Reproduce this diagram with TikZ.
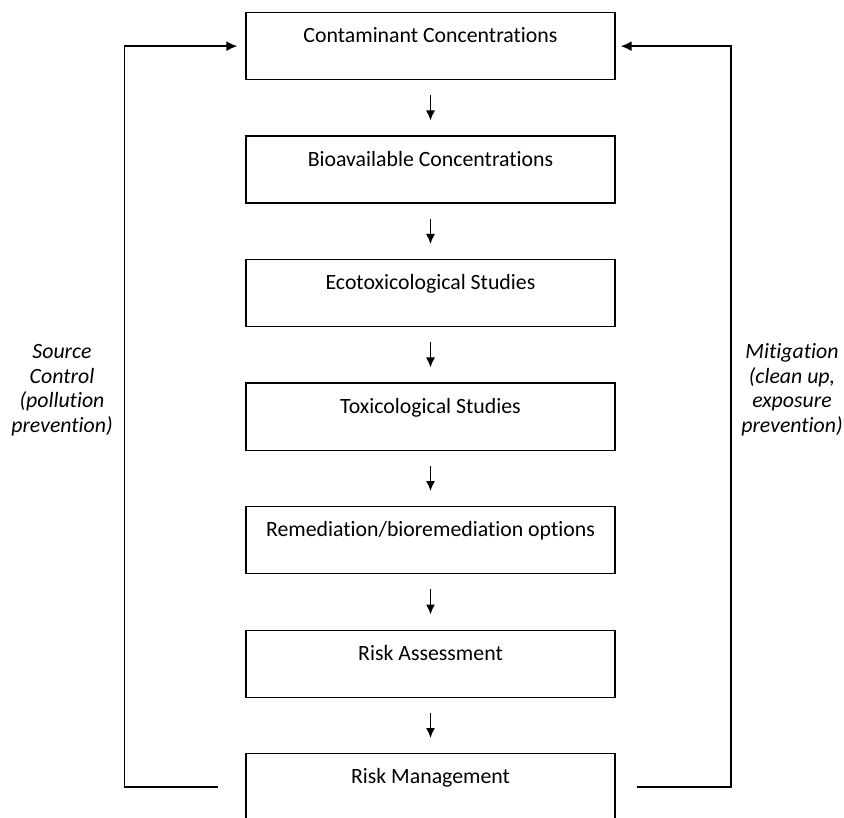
\documentclass[tikz,border=0pt]{standalone}
\usepackage{fontspec}
\setmainfont[Ligatures=NoCommon]{Carlito}
\usetikzlibrary{positioning,arrows.meta}

\tikzset{
  stage/.style={draw,line width=1.3pt,minimum width=369pt,inner xsep=0pt,inner ysep=0pt,
    text height=30pt,text depth=37pt,font=\fontsize{21.8}{26}\selectfont},
  flow/.style={line width=1.4pt,-{Latex[length=10pt,width=9pt]},shorten <=15pt,shorten >=15pt},
  feedback/.style={line width=1.7pt,-{Latex[length=11pt,width=10pt]}},
  sidenote/.style={align=center,font=\fontsize{21.8}{24.5}\selectfont\itshape}
}

\begin{document}
\begin{tikzpicture}[x=1pt,y=-1pt]
\useasboundingbox (0,0) rectangle (844,818);
\clip (0,0) rectangle (844,818);

% chain of stages
\node[stage,anchor=north] (conc) at (430.5,12) {Contaminant Concentrations};
\node[stage,below=55.2pt of conc] (bioav) {Bioavailable Concentrations};
\node[stage,below=55.2pt of bioav] (ecotox) {Ecotoxicological Studies};
\node[stage,below=55.2pt of ecotox] (tox) {Toxicological Studies};
\node[stage,below=55.2pt of tox] (remed) {Remediation/bioremediation options};
\node[stage,below=55.2pt of remed] (assess) {Risk Assessment};
\node[stage,below=55.2pt of assess] (mgmt) {Risk Management};

\foreach \a/\b in {conc/bioav,bioav/ecotox,ecotox/tox,tox/remed,remed/assess,assess/mgmt}
  \draw[flow] (\a.south) -- (\b.north);

% feedback loops
\coordinate[left=27pt of mgmt.west] (srcstart);
\coordinate[right=21pt of mgmt.east] (mitstart);
\draw[feedback] (srcstart) -- ++(-94,0) |- ([xshift=-8pt]conc.west);
\draw[feedback] (mitstart) -- ++(94,0) |- ([xshift=5pt]conc.east);

\node[sidenote] (source) at (62,390) {Source\\Control\\(pollution\\prevention)};
\node[sidenote] (mitig) at (792,390) {Mitigation\\(clean up,\\exposure\\prevention)};
\end{tikzpicture}
\end{document}
